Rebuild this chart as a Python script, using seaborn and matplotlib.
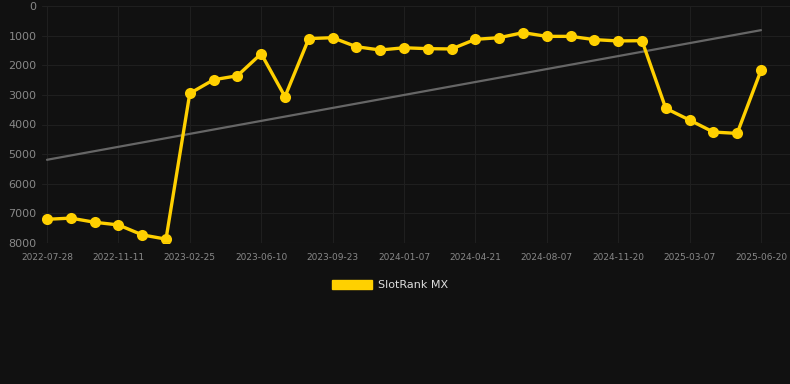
import numpy as np
import pandas as pd
import matplotlib
matplotlib.use("Agg")
import matplotlib.pyplot as plt
import seaborn as sns
from matplotlib.patches import Patch

# =========================
# DATA
# =========================
tick_labels = ["2022-07-28", "2022-11-11", "2023-02-25", "2023-06-10",
               "2023-09-23", "2024-01-07", "2024-04-21", "2024-08-07",
               "2024-11-20", "2025-03-07", "2025-06-20"]

rank = [7200, 7160, 7300, 7390, 7725, 7870,
        2950, 2490, 2355, 1610, 3060,
        1100, 1070, 1375, 1485, 1410, 1440, 1450,
        1125, 1070, 900, 1025, 1025, 1135, 1180, 1170,
        3455, 3850, 4255, 4300, 2175]

series_name = "SlotRank MX"

# =========================
# STYLE
# =========================
BG = "#111111"
GOLD = "#FFD000"
TREND = "#666666"
GRID = "#1f1f1f"
TEXT = "#888888"

sns.set_theme(style="dark")
plt.rcParams["font.family"] = ["DejaVu Sans"]

df = pd.DataFrame({"idx": np.arange(len(rank)), "rank": rank})
# linear trend over the whole series
coef = np.polyfit(df["idx"], df["rank"], 1)
df["trend"] = np.polyval(coef, df["idx"])

fig = plt.figure(figsize=(7.9, 3.84), dpi=100, facecolor=BG)
ax = fig.add_axes([42 / 790, 1 - 243 / 384, (790 - 42) / 790, (243 - 6) / 384])
ax.set_facecolor(BG)

sns.lineplot(data=df, x="idx", y="trend", ax=ax, color=TREND, linewidth=1.6)
sns.lineplot(data=df, x="idx", y="rank", ax=ax, color=GOLD, linewidth=2.4,
             marker="o", markersize=8, markeredgewidth=0, markeredgecolor=GOLD)

ax.set_xlim(-0.21, 31.22)
ax.set_ylim(8000, 0)
ax.set_yticks(np.arange(0, 8001, 1000))
ax.set_xticks(np.arange(0, len(rank), 3))
ax.set_xticklabels(tick_labels)
ax.set_xlabel("")
ax.set_ylabel("")

ax.grid(True, color=GRID, linewidth=0.8)
ax.tick_params(axis="y", colors=TEXT, labelsize=8, length=0, pad=4)
ax.tick_params(axis="x", colors=TEXT, labelsize=6.5, length=0, pad=7)
for s in ax.spines.values():
    s.set_visible(False)
ax.axhline(8000, color="#2a2a2a", linewidth=0.8)

handles = [Patch(facecolor=GOLD, edgecolor=GOLD, label=series_name)]
leg = fig.legend(handles=handles, loc="center", bbox_to_anchor=(390 / 790, 1 - 285 / 384),
                 frameon=False, fontsize=8, handlelength=3.6, handleheight=0.9,
                 handletextpad=0.6)
for t in leg.get_texts():
    t.set_color("#dddddd")

fig.savefig("out.png", dpi=100, facecolor=BG)
